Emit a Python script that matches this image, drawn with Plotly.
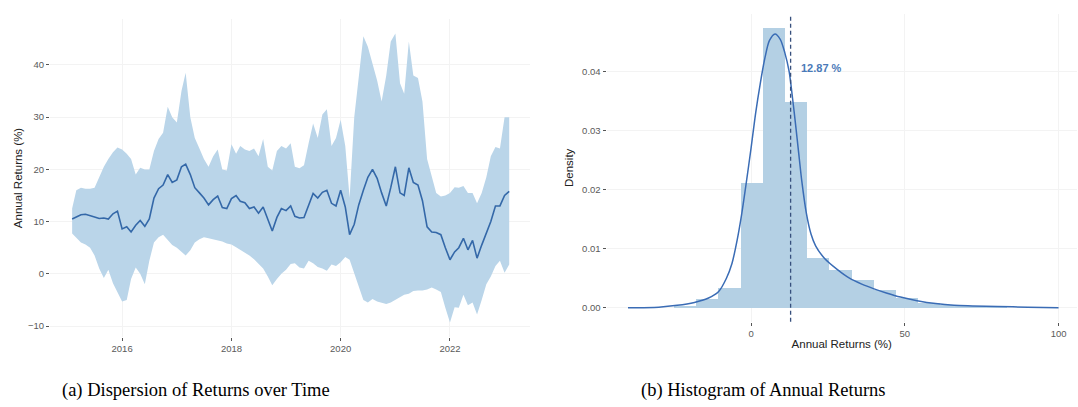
import pandas as pd
import plotly.graph_objects as go

# ---------------- data: dispersion of returns over time (monthly) ----------------
months = pd.date_range("2015-02-01", periods=97, freq="MS")

mean_return = [
    10.5, 10.9, 11.3, 11.4, 11.2, 10.9, 10.6, 10.7, 10.5, 11.5, 12.0, 8.6,
    9.0, 8.0, 9.3, 10.2, 9.1, 10.5, 14.5, 16.3, 17.0, 19.0, 17.5, 18.0,
    20.5, 21.0, 19.0, 16.5, 15.5, 14.5, 13.2, 14.2, 14.9, 12.7, 12.5, 14.4,
    15.0, 13.9, 13.6, 12.5, 12.8, 11.6, 12.8, 10.3, 8.2, 10.8, 12.5, 12.1,
    13.0, 11.0, 10.7, 10.8, 13.0, 15.4, 14.5, 15.6, 16.0, 13.5, 13.0, 16.0,
    12.8, 7.5, 9.5, 13.2, 16.0, 18.5, 20.0, 18.3, 15.5, 13.0, 16.5, 20.5,
    15.5, 15.0, 20.3, 17.5, 17.0, 14.0, 9.0, 8.0, 7.9, 7.5, 5.0, 2.7,
    4.2, 5.0, 6.8, 4.6, 6.4, 3.0, 5.5, 8.0, 10.0, 13.0, 13.0, 15.0,
    15.8,
]

upper_return = [
    12.5, 16.0, 16.5, 16.3, 16.3, 16.5, 18.5, 20.5, 22.0, 23.3, 24.2, 23.8,
    23.0, 22.0, 19.0, 20.3, 20.0, 20.0, 23.5, 25.8, 27.0, 32.0, 30.0, 29.0,
    35.0, 38.5, 30.0, 26.0, 24.0, 22.0, 20.5, 22.5, 23.8, 20.0, 19.8, 24.8,
    23.0, 24.5, 23.8, 23.5, 24.0, 22.5, 25.8, 20.5, 19.8, 23.5, 24.5, 24.0,
    25.0, 20.5, 20.2, 20.8, 25.0, 28.8, 26.0, 30.5, 31.5, 24.5, 26.0, 29.5,
    24.5, 14.5, 30.0, 38.0, 45.5, 43.5, 40.0, 37.0, 33.0, 38.0, 44.5, 46.0,
    36.5, 34.5, 44.5, 38.0, 37.5, 33.0, 22.0, 18.5, 15.5, 14.8, 15.0, 15.5,
    16.6, 16.5, 16.8, 15.5, 15.5, 13.5, 15.5, 18.5, 22.5, 24.3, 24.0, 30.0,
    30.0,
]

lower_return = [
    7.7, 6.8, 6.0, 5.6, 5.0, 3.5, 1.0, -0.8, 0.8, -1.8, -3.5, -5.3,
    -5.0, -1.0, 1.2, 0.0, -2.0, 2.5, 6.0, 7.0, 7.5, 6.5, 5.5, 5.0,
    4.2, 3.5, 4.5, 6.0, 6.6, 7.0, 6.8, 6.6, 6.4, 6.2, 5.8, 5.6,
    5.1, 4.6, 4.2, 3.5, 2.8, 1.9, 1.0, -0.5, -2.2, -1.0, 0.0, 0.8,
    1.9, 2.0, 1.2, 1.0, 2.5, 2.0, 1.3, 1.0, 0.6, 1.8, 1.5, 2.2,
    3.2, 2.7, 0.0, -2.5, -5.0, -5.5, -4.8, -5.3, -5.5, -5.8, -5.5, -5.0,
    -4.5, -4.0, -3.8, -3.3, -3.2, -3.2, -3.0, -2.6, -3.0, -3.5, -6.5, -9.3,
    -6.4, -6.5, -4.0, -6.0, -5.5, -7.8, -5.0, -2.0, -0.5, 1.5, 2.5, 0.2,
    1.8,
]

# ---------------- data: histogram of annual returns ----------------
bin_width = 7.22
bin_left_edges = [-25.24, -18.02, -10.80, -3.58, 3.64, 10.86, 18.08, 25.30,
                  32.52, 39.74, 46.96, 54.18, 61.40, 68.62, 75.84]
bin_density = [0.0003, 0.0015, 0.0033, 0.0211, 0.0474, 0.0349, 0.0085, 0.0064,
               0.0047, 0.0031, 0.0017, 0.0008, 0.0004, 0.0002, 0.0001]

kde_x = [-40, -30, -24, -18.4, -14, -10.6, -8, -6.2, -4.5, -3, -1.6, 0, 1.5,
         3, 4.5, 6, 7.8, 9.5, 11, 12.4, 13.5, 14.5, 15.5, 16.5, 18, 19.5, 21,
         24, 28, 32, 36, 40, 44, 48.6, 54, 60, 66, 72, 80, 90, 100]
kde_y = [0.0000, 0.0001, 0.0004, 0.0009, 0.0016, 0.0027, 0.0050, 0.0075,
         0.0115, 0.0160, 0.0210, 0.0270, 0.0330, 0.0380, 0.0423, 0.0453,
         0.0464, 0.0455, 0.0432, 0.0400, 0.0355, 0.0310, 0.0262, 0.0215,
         0.0160, 0.0125, 0.0105, 0.0083, 0.0065, 0.0050, 0.0040, 0.0032,
         0.0025, 0.0018, 0.0012, 0.0007, 0.0004, 0.0003, 0.0002, 0.0001,
         0.0000]

mean_annual_return = 12.87

x_ticks_years = ["2016-01-01", "2018-01-01", "2020-01-01", "2022-01-01"]
x_tick_labels = ["2016", "2018", "2020", "2022"]
y_ticks_left = [-10, 0, 10, 20, 30, 40]
y_ticks_right = [0.00, 0.01, 0.02, 0.03, 0.04]
x_ticks_right = [0, 50, 100]

# ---------------- styling ----------------
RIBBON = "rgb(186,213,233)"
LINE = "rgb(52,104,168)"
BAR = "rgb(180,208,228)"
KDE = "rgb(58,108,181)"
VLINE = "rgb(55,80,125)"
GRID = "rgb(243,243,243)"
TICK_FONT = dict(family="Liberation Sans, Arial, sans-serif", size=9.5, color="#5a5a5a")
TITLE_FONT = dict(family="Liberation Sans, Arial, sans-serif", size=11.5, color="#222222")

W, H = 1078, 407

fig = go.Figure()

# ribbon (min..max) and mean line
fig.add_trace(go.Scatter(x=months, y=lower_return, mode="lines",
                         line=dict(width=0, color=RIBBON), hoverinfo="skip",
                         showlegend=False, xaxis="x", yaxis="y"))
fig.add_trace(go.Scatter(x=months, y=upper_return, mode="lines",
                         line=dict(width=0, color=RIBBON), fill="tonexty",
                         fillcolor=RIBBON, hoverinfo="skip",
                         showlegend=False, xaxis="x", yaxis="y"))
fig.add_trace(go.Scatter(x=months, y=mean_return, mode="lines",
                         line=dict(width=1.6, color=LINE),
                         showlegend=False, xaxis="x", yaxis="y"))

# histogram bars (density scale)
bin_centers = [e + bin_width / 2 for e in bin_left_edges]
fig.add_trace(go.Bar(x=bin_centers, y=bin_density, width=bin_width,
                     marker=dict(color=BAR, line=dict(width=0)),
                     showlegend=False, xaxis="x2", yaxis="y2"))
fig.add_trace(go.Scatter(x=kde_x, y=kde_y, mode="lines",
                         line=dict(width=1.5, color=KDE, shape="spline", smoothing=0.8),
                         showlegend=False, xaxis="x2", yaxis="y2"))

# mean line and label
fig.add_shape(type="line", xref="x2", yref="y2 domain",
              x0=mean_annual_return, x1=mean_annual_return, y0=0, y1=1,
              line=dict(color=VLINE, width=1.3, dash="4px,3px"))
fig.add_annotation(xref="x2", yref="y2", x=mean_annual_return + 10, y=0.0407,
                   text=f"<b>{mean_annual_return:.2f} %</b>", showarrow=False,
                   font=dict(family="Liberation Sans, Arial, sans-serif", size=11,
                             color="rgb(74,122,184)"))


def px_x(p):
    return p / W


def px_y(p):
    return 1 - p / H


axis_common = dict(showline=False, zeroline=False, showgrid=True, gridcolor=GRID,
                   gridwidth=1, ticks="outside", ticklen=3, tickwidth=1,
                   tickcolor="#555555", tickfont=TICK_FONT)

fig.update_layout(
    width=W, height=H,
    margin=dict(l=0, r=0, t=0, b=0),
    paper_bgcolor="white", plot_bgcolor="white",
    bargap=0,
    xaxis=dict(domain=[px_x(50), px_x(530)], anchor="y",
               range=["2014-09-06", "2023-06-20"],
               tickvals=x_ticks_years, ticktext=x_tick_labels, **axis_common),
    yaxis=dict(domain=[px_y(337), px_y(19)], anchor="x",
               range=[-12.1, 48.8], tickvals=y_ticks_left,
               title=dict(text="Annual Returns (%)", font=TITLE_FONT, standoff=2),
               **axis_common),
    xaxis2=dict(domain=[px_x(606.5), px_x(1077)], anchor="y2",
                range=[-47, 106], tickvals=x_ticks_right,
                title=dict(text="Annual Returns (%)", font=TITLE_FONT, standoff=1),
                **axis_common),
    yaxis2=dict(domain=[px_y(321.7), px_y(13.9)], anchor="x2",
                range=[-0.00237, 0.0498], tickvals=y_ticks_right,
                tickformat=".2f",
                title=dict(text="Density", font=TITLE_FONT, standoff=6),
                **axis_common),
)

# sub-figure captions
CAPTION_FONT = dict(family="Liberation Serif, Times New Roman, serif", size=18.5, color="black")
fig.add_annotation(xref="paper", yref="paper", x=px_x(196), y=px_y(390),
                   text="(a) Dispersion of Returns over Time", showarrow=False,
                   font=CAPTION_FONT, xanchor="center", yanchor="middle")
fig.add_annotation(xref="paper", yref="paper", x=px_x(763), y=px_y(390),
                   text="(b) Histogram of Annual Returns", showarrow=False,
                   font=CAPTION_FONT, xanchor="center", yanchor="middle")

fig.write_html("out.html")
